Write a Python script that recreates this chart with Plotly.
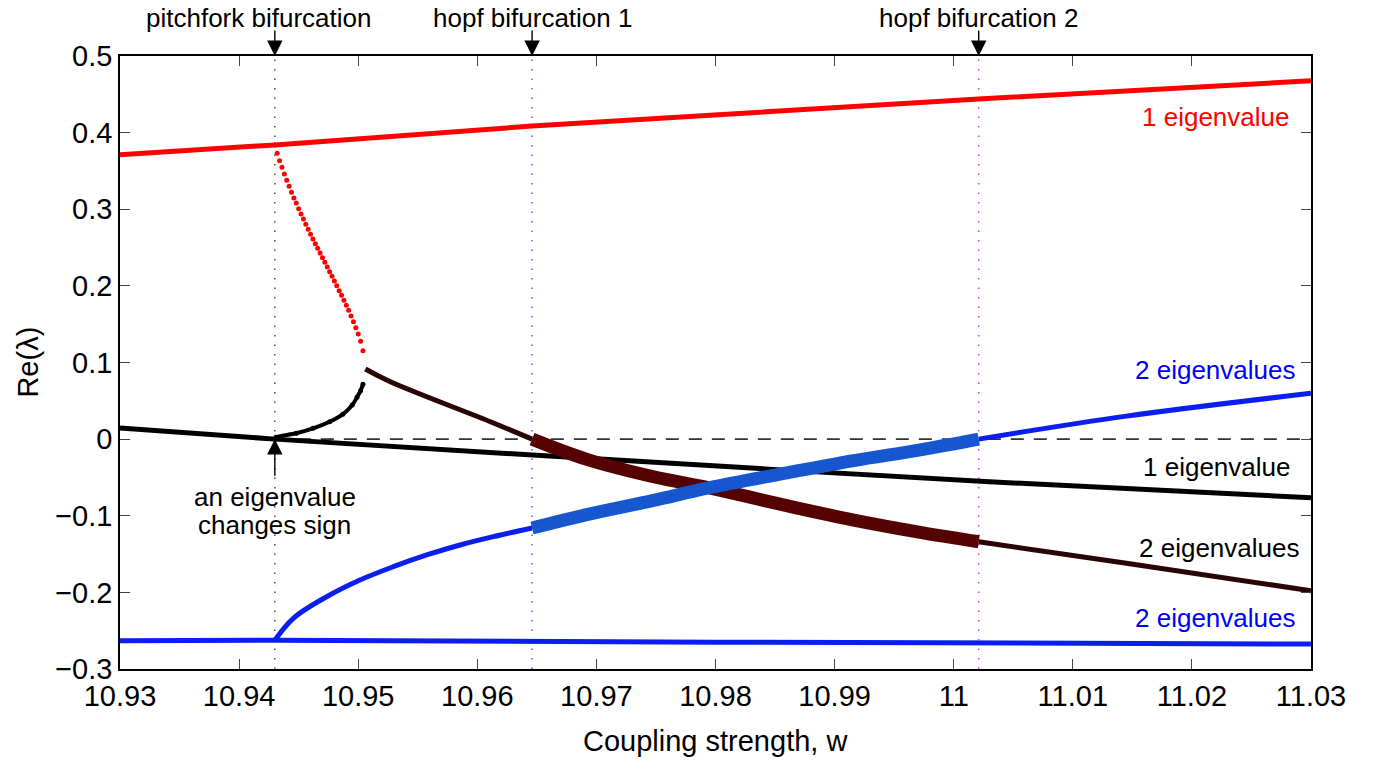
import plotly.graph_objects as go

# ---------------- data ----------------
w_pitchfork = 10.943
w_hopf1 = 10.9646
w_hopf2 = 11.0021

# top red branch (1 eigenvalue)
w_red = [10.93, 10.943, 10.9646, 11.0021, 11.03]
re_red = [0.371, 0.384, 0.4086, 0.4439, 0.4676]

# red dotted branch after pitchfork
w_red_dots = [10.9430, 10.9432, 10.9434, 10.9436, 10.9438, 10.9440, 10.9442, 10.9444,
              10.9446, 10.9448, 10.9450, 10.9452, 10.9454, 10.9456, 10.9458, 10.9460,
              10.9462, 10.9464, 10.9466, 10.9468, 10.9470, 10.9472, 10.9474, 10.9476,
              10.9478, 10.9480, 10.9482, 10.9484, 10.9486, 10.9488, 10.9490, 10.9492,
              10.9494, 10.9496, 10.9498, 10.9500, 10.9502, 10.9504]
re_red_dots = [0.3838, 0.3730, 0.3634, 0.3547, 0.3460, 0.3377, 0.3299, 0.3221,
               0.3147, 0.3081, 0.3007, 0.2938, 0.2873, 0.2803, 0.2738, 0.2673,
               0.2612, 0.2550, 0.2490, 0.2429, 0.2367, 0.2307, 0.2246, 0.2185,
               0.2125, 0.2063, 0.2002, 0.1937, 0.1877, 0.1812, 0.1746, 0.1681,
               0.1607, 0.1532, 0.1454, 0.1372, 0.1276, 0.1154]

# black branch (1 eigenvalue)
w_black = [10.93, 10.943, 10.9636, 11.003, 11.03]
re_black = [0.0146, 0.0, -0.0198, -0.0556, -0.0765]

# black dotted branch after pitchfork
w_black_dots = [10.9430, 10.9431, 10.9448, 10.9462, 10.9476, 10.9487, 10.9495, 10.9499, 10.9502, 10.9504]
re_black_dots = [0.0, 0.0024, 0.0076, 0.0141, 0.0227, 0.0324, 0.0445, 0.0546, 0.0632, 0.0715]

# dark branch (2 eigenvalues, black/dark red)
w_dark_a = [10.9506, 10.9527, 10.9611, 10.9646]
re_dark_a = [0.0915, 0.0749, 0.0227, 0.0]
w_dark_b = [10.9646, 10.9692, 10.9748, 10.9793, 10.9860, 10.9916, 10.9972, 11.0021]
re_dark_b = [0.0, -0.0264, -0.0491, -0.0630, -0.0869, -0.1056, -0.1216, -0.1339]
w_dark_c = [11.0021, 11.0145, 11.03]
re_dark_c = [-0.1339, -0.1621, -0.1978]

# blue upper branch (2 eigenvalues)
w_blue_a = [10.943, 10.94455, 10.94735, 10.95015, 10.95295, 10.95575, 10.95855, 10.96134, 10.9646]
re_blue_a = [-0.2625, -0.2338, -0.2057, -0.1839, -0.1665, -0.1512, -0.1382, -0.1273, -0.1160]
w_blue_b = [10.9646, 10.9692, 10.9748, 10.9793, 10.9860, 10.9916, 10.9972, 11.0021]
re_blue_b = [-0.1160, -0.0985, -0.0800, -0.0640, -0.0440, -0.0280, -0.0140, 0.0]
w_blue_c = [11.0021, 11.0145, 11.03]
re_blue_c = [0.0, 0.030, 0.0598]

# blue lower branch (2 eigenvalues)
w_blue_low = [10.93, 10.943, 10.98, 11.03]
re_blue_low = [-0.2631, -0.2625, -0.2650, -0.2674]

x_ticks = [10.93, 10.94, 10.95, 10.96, 10.97, 10.98, 10.99, 11.00, 11.01, 11.02, 11.03]
x_tick_text = ["10.93", "10.94", "10.95", "10.96", "10.97", "10.98", "10.99", "11", "11.01", "11.02", "11.03"]
y_ticks = [-0.3, -0.2, -0.1, 0.0, 0.1, 0.2, 0.3, 0.4, 0.5]
y_tick_text = ["\u22120.3", "\u22120.2", "\u22120.1", "0", "0.1", "0.2", "0.3", "0.4", "0.5"]

FONT = "Liberation Sans, Arial, Helvetica, sans-serif"
RED = "#ff0000"
BLUE = "#0a1ef0"
BLUE_BAND = "#1656cf"
DARK = "#2a0505"
DARK_BAND = "#560202"

fig = go.Figure()

def line(x, y, color, width, dash=None, shape="linear"):
    fig.add_trace(go.Scatter(x=x, y=y, mode="lines", hoverinfo="skip",
                             line=dict(color=color, width=width, dash=dash, shape=shape),
                             showlegend=False))

# vertical dotted reference lines
line([w_pitchfork, w_pitchfork], [-0.3, 0.5], "#333333", 1.3, "1.5px,8px")
line([w_hopf1, w_hopf1], [-0.3, 0.5], "#5a5aff", 1.5, "1.5px,8px")
line([w_hopf2, w_hopf2], [-0.3, 0.5], "#d830d8", 1.5, "1.5px,8px")
# zero dashed line
line([w_pitchfork, 11.03], [0, 0], "#333333", 1.6, "13px,10px")

# branches
line(w_blue_low, re_blue_low, BLUE, 5)
line(w_black, re_black, "#000000", 5, shape="spline")
line(w_red, re_red, RED, 5)
fig.add_trace(go.Scatter(x=w_red_dots, y=re_red_dots, mode="markers", hoverinfo="skip",
                         marker=dict(color=RED, size=5), showlegend=False))
fig.add_trace(go.Scatter(x=w_black_dots, y=re_black_dots, mode="lines+markers", hoverinfo="skip",
                         line=dict(color="#000000", width=4, shape="spline"),
                         marker=dict(color="#000000", size=5), showlegend=False))
line(w_dark_a, re_dark_a, DARK, 5, shape="spline")
line(w_dark_c, re_dark_c, DARK, 5, shape="spline")
line(w_blue_a, re_blue_a, BLUE, 5, shape="spline")
line(w_blue_c, re_blue_c, BLUE, 5, shape="spline")
line(w_dark_b, re_dark_b, DARK_BAND, 13, shape="spline")
line(w_blue_b, re_blue_b, BLUE_BAND, 13, shape="spline")

ann = []
def txt(x, y, s, color="#000000", size=26, xanchor="center", xref="x", yref="y"):
    ann.append(dict(x=x, y=y, xref=xref, yref=yref, text=s, showarrow=False,
                    xanchor=xanchor, yanchor="middle",
                    font=dict(family=FONT, size=size, color=color)))

# top labels and arrows
for wx, tx, label in [(w_pitchfork, 10.9416, "pitchfork bifurcation"),
                      (w_hopf1, w_hopf1, "hopf bifurcation 1"),
                      (w_hopf2, w_hopf2, "hopf bifurcation 2")]:
    txt(tx, 1.062, label, yref="paper")
    ann.append(dict(x=wx, y=1.0, xref="x", yref="paper", ax=0, ay=-27, text="",
                    showarrow=True, arrowhead=2, arrowsize=2.2, arrowwidth=1.4,
                    arrowcolor="#000000"))

# bottom arrow
ann.append(dict(x=w_pitchfork, y=0.0, xref="x", yref="y", ax=0, ay=38, text="",
                showarrow=True, arrowhead=2, arrowsize=2.2, arrowwidth=1.4, arrowcolor="#000000"))
txt(w_pitchfork, -0.0753, "an eigenvalue")
txt(w_pitchfork, -0.1118, "changes sign")

# right labels
txt(11.0283, 0.4208, "1 eigenvalue", RED, xanchor="right")
txt(11.0288, 0.0902, "2 eigenvalues", "#0000ff", xanchor="right")
txt(11.0284, -0.0360, "1 eigenvalue", "#000000", xanchor="right")
txt(11.0292, -0.1425, "2 eigenvalues", "#000000", xanchor="right")
txt(11.0288, -0.2334, "2 eigenvalues", "#0000ff", xanchor="right")

# axis titles
txt(0.5, -0.118, "Coupling strength, w", size=29, xref="paper", yref="paper")
ann.append(dict(x=-0.078, y=0.5, xref="paper", yref="paper", text="Re(\u03bb)", showarrow=False,
                textangle=-90, xanchor="center", yanchor="middle",
                font=dict(family=FONT, size=29, color="#000000")))

fig.update_layout(
    width=1374, height=762,
    margin=dict(l=120, r=63, t=56, b=93),
    paper_bgcolor="white", plot_bgcolor="white",
    font=dict(family=FONT, size=29, color="#000000"),
    annotations=ann,
    xaxis=dict(range=[10.93, 11.03], tickvals=x_ticks, ticktext=x_tick_text,
               ticks="inside", ticklen=10, tickwidth=1.2, tickcolor="#444444",
               showline=True, linecolor="#000000", linewidth=1.5, mirror="ticks",
               showgrid=False, zeroline=False, tickfont=dict(size=29)),
    yaxis=dict(range=[-0.3, 0.5], tickvals=y_ticks, ticktext=y_tick_text,
               ticks="inside", ticklen=10, tickwidth=1.2, tickcolor="#444444",
               showline=True, linecolor="#000000", linewidth=1.5, mirror="ticks",
               showgrid=False, zeroline=False, tickfont=dict(size=29)),
)

# remove the default page margin so the figure fills the window exactly
fig.write_html("out.html", config={"displayModeBar": False},
               post_script="document.body.style.margin='0px';document.body.style.overflow='hidden';")
